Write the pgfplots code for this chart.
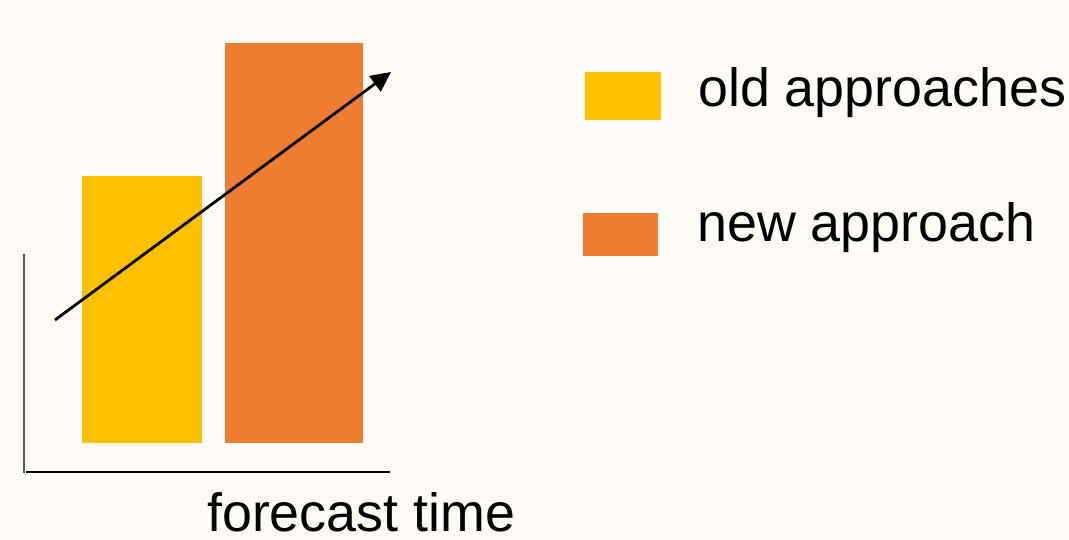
\documentclass[border=0pt]{standalone}
\usepackage{pgfplots}
\pgfplotsset{compat=1.18}
\usepackage{fontspec}
\setmainfont{Liberation Sans}
\usetikzlibrary{arrows.meta}
\definecolor{bgc}{HTML}{FEFBF6}
\definecolor{oldc}{HTML}{FFC000}
\definecolor{newc}{HTML}{ED7D31}
\definecolor{axg}{HTML}{595959}
\begin{document}
\begin{tikzpicture}
\begin{axis}[
  scale only axis, width=1069pt, height=540pt,
  xmin=0, xmax=1069, ymin=-97, ymax=443,
  hide axis, clip=false,
  ybar, bar shift=0pt,
]
\fill[bgc] (axis cs:0,-97) rectangle (axis cs:1069,443);
% bars
\addplot[fill=oldc, draw=none, bar width=120] coordinates {(142,267)};
\addplot[fill=newc, draw=none, bar width=138] coordinates {(294,400)};
% axis lines
\draw[axg, line width=2pt] (axis cs:23.5,189) -- (axis cs:23.5,-30);
\draw[black, line width=1.5pt] (axis cs:26,-29) -- (axis cs:390,-29);
% trend arrow
\draw[black, line width=2.8pt, -{Triangle[length=20pt,width=19pt]}] (axis cs:55,123) -- (axis cs:391,371);
% legend
\fill[oldc] (axis cs:585,371) rectangle (axis cs:661,323);
\fill[newc] (axis cs:583,230) rectangle (axis cs:658,187);
\node[anchor=base west, inner sep=0pt, font=\fontsize{53.8}{60}\selectfont] at (axis cs:698,336) {old approaches};
\node[anchor=base west, inner sep=0pt, font=\fontsize{53.8}{60}\selectfont] at (axis cs:697,201) {new approach};
\node[anchor=base west, inner sep=0pt, font=\fontsize{53.8}{60}\selectfont] at (axis cs:207,-88.7) {forecast time};
\end{axis}
\end{tikzpicture}
\end{document}
